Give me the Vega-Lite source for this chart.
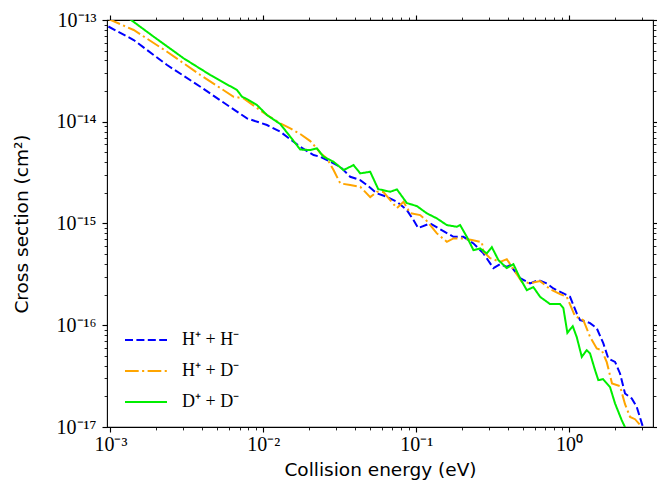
{
  "$schema": "https://vega.github.io/schema/vega-lite/v6.json",
  "width": 546,
  "height": 407,
  "autosize": {"type": "none"},
  "padding": {"left": 107, "top": 20, "right": 4, "bottom": 58},
  "background": "white",
  "config": {
    "view": {"stroke": "#000000", "strokeWidth": 1.1},
    "axis": {
      "domain": false,
      "grid": false,
      "tickColor": "#000000",
      "labelColor": "#000000",
      "titleColor": "#000000",
      "labelFont": "Liberation Serif",
      "labelFontSize": 20,
      "titleFont": "DejaVu Sans",
      "titleFontSize": 18.5,
      "titleFontWeight": "normal",
      "labelOverlap": false,
      "labelFlush": false
    }
  },
  "data": {
    "values": [
      {"E": 0.000970, "s": 8.633e-14, "c": "H⁺ + H⁻"},
      {"E": 0.001420, "s": 6.358e-14, "c": "H⁺ + H⁻"},
      {"E": 0.002348, "s": 3.610e-14, "c": "H⁺ + H⁻"},
      {"E": 0.003875, "s": 2.208e-14, "c": "H⁺ + H⁻"},
      {"E": 0.006396, "s": 1.324e-14, "c": "H⁺ + H⁻"},
      {"E": 0.007825, "s": 1.080e-14, "c": "H⁺ + H⁻"},
      {"E": 0.01057, "s": 9.283e-15, "c": "H⁺ + H⁻"},
      {"E": 0.01292, "s": 7.975e-15, "c": "H⁺ + H⁻"},
      {"E": 0.01578, "s": 6.358e-15, "c": "H⁺ + H⁻"},
      {"E": 0.01745, "s": 5.677e-15, "c": "H⁺ + H⁻"},
      {"E": 0.02133, "s": 4.706e-15, "c": "H⁺ + H⁻"},
      {"E": 0.02358, "s": 4.529e-15, "c": "H⁺ + H⁻"},
      {"E": 0.02881, "s": 3.899e-15, "c": "H⁺ + H⁻"},
      {"E": 0.03187, "s": 3.610e-15, "c": "H⁺ + H⁻"},
      {"E": 0.03704, "s": 2.879e-15, "c": "H⁺ + H⁻"},
      {"E": 0.04305, "s": 2.671e-15, "c": "H⁺ + H⁻"},
      {"E": 0.04763, "s": 2.386e-15, "c": "H⁺ + H⁻"},
      {"E": 0.05535, "s": 1.977e-15, "c": "H⁺ + H⁻"},
      {"E": 0.06435, "s": 1.830e-15, "c": "H⁺ + H⁻"},
      {"E": 0.07480, "s": 1.634e-15, "c": "H⁺ + H⁻"},
      {"E": 0.08693, "s": 1.355e-15, "c": "H⁺ + H⁻"},
      {"E": 0.09603, "s": 1.080e-15, "c": "H⁺ + H⁻"},
      {"E": 0.1031, "s": 9.011e-16, "c": "H⁺ + H⁻"},
      {"E": 0.1234, "s": 1.002e-15, "c": "H⁺ + H⁻"},
      {"E": 0.1508, "s": 8.421e-16, "c": "H⁺ + H⁻"},
      {"E": 0.1753, "s": 7.399e-16, "c": "H⁺ + H⁻"},
      {"E": 0.2038, "s": 7.399e-16, "c": "H⁺ + H⁻"},
      {"E": 0.2369, "s": 6.373e-16, "c": "H⁺ + H⁻"},
      {"E": 0.2754, "s": 5.082e-16, "c": "H⁺ + H⁻"},
      {"E": 0.3200, "s": 3.643e-16, "c": "H⁺ + H⁻"},
      {"E": 0.3540, "s": 3.990e-16, "c": "H⁺ + H⁻"},
      {"E": 0.3915, "s": 3.752e-16, "c": "H⁺ + H⁻"},
      {"E": 0.4115, "s": 3.899e-16, "c": "H⁺ + H⁻"},
      {"E": 0.4783, "s": 2.905e-16, "c": "H⁺ + H⁻"},
      {"E": 0.5560, "s": 2.576e-16, "c": "H⁺ + H⁻"},
      {"E": 0.6300, "s": 2.777e-16, "c": "H⁺ + H⁻"},
      {"E": 0.7150, "s": 2.576e-16, "c": "H⁺ + H⁻"},
      {"E": 0.7897, "s": 2.300e-16, "c": "H⁺ + H⁻"},
      {"E": 0.9179, "s": 2.055e-16, "c": "H⁺ + H⁻"},
      {"E": 1.015, "s": 1.902e-16, "c": "H⁺ + H⁻"},
      {"E": 1.123, "s": 1.306e-16, "c": "H⁺ + H⁻"},
      {"E": 1.180, "s": 1.122e-16, "c": "H⁺ + H⁻"},
      {"E": 1.305, "s": 1.080e-16, "c": "H⁺ + H⁻"},
      {"E": 1.372, "s": 1.049e-16, "c": "H⁺ + H⁻"},
      {"E": 1.517, "s": 9.365e-17, "c": "H⁺ + H⁻"},
      {"E": 1.676, "s": 6.622e-17, "c": "H⁺ + H⁻"},
      {"E": 1.807, "s": 4.716e-17, "c": "H⁺ + H⁻"},
      {"E": 1.999, "s": 4.366e-17, "c": "H⁺ + H⁻"},
      {"E": 2.154, "s": 3.358e-17, "c": "H⁺ + H⁻"},
      {"E": 2.323, "s": 2.135e-17, "c": "H⁺ + H⁻"},
      {"E": 2.570, "s": 1.906e-17, "c": "H⁺ + H⁻"},
      {"E": 2.770, "s": 1.576e-17, "c": "H⁺ + H⁻"},
      {"E": 3.046, "s": 9.95e-18, "c": "H⁺ + H⁻"},

      {"E": 0.000956, "s": 1.034e-13, "c": "H⁺ + D⁻"},
      {"E": 0.001420, "s": 7.975e-14, "c": "H⁺ + D⁻"},
      {"E": 0.002348, "s": 4.879e-14, "c": "H⁺ + D⁻"},
      {"E": 0.003875, "s": 2.879e-14, "c": "H⁺ + D⁻"},
      {"E": 0.006396, "s": 1.761e-14, "c": "H⁺ + D⁻"},
      {"E": 0.007434, "s": 1.699e-14, "c": "H⁺ + D⁻"},
      {"E": 0.009095, "s": 1.364e-14, "c": "H⁺ + D⁻"},
      {"E": 0.01057, "s": 1.164e-14, "c": "H⁺ + D⁻"},
      {"E": 0.01292, "s": 9.645e-15, "c": "H⁺ + D⁻"},
      {"E": 0.01502, "s": 8.612e-15, "c": "H⁺ + D⁻"},
      {"E": 0.01745, "s": 7.571e-15, "c": "H⁺ + D⁻"},
      {"E": 0.02029, "s": 6.459e-15, "c": "H⁺ + D⁻"},
      {"E": 0.02188, "s": 5.678e-15, "c": "H⁺ + D⁻"},
      {"E": 0.02358, "s": 4.923e-15, "c": "H⁺ + D⁻"},
      {"E": 0.02608, "s": 4.366e-15, "c": "H⁺ + D⁻"},
      {"E": 0.02881, "s": 3.350e-15, "c": "H⁺ + D⁻"},
      {"E": 0.03187, "s": 2.479e-15, "c": "H⁺ + D⁻"},
      {"E": 0.03704, "s": 2.386e-15, "c": "H⁺ + D⁻"},
      {"E": 0.04305, "s": 2.296e-15, "c": "H⁺ + D⁻"},
      {"E": 0.05004, "s": 1.818e-15, "c": "H⁺ + D⁻"},
      {"E": 0.05535, "s": 2.049e-15, "c": "H⁺ + D⁻"},
      {"E": 0.06114, "s": 2.036e-15, "c": "H⁺ + D⁻"},
      {"E": 0.06763, "s": 1.699e-15, "c": "H⁺ + D⁻"},
      {"E": 0.07480, "s": 1.417e-15, "c": "H⁺ + D⁻"},
      {"E": 0.08260, "s": 1.634e-15, "c": "H⁺ + D⁻"},
      {"E": 0.09138, "s": 1.266e-15, "c": "H⁺ + D⁻"},
      {"E": 0.1062, "s": 1.209e-15, "c": "H⁺ + D⁻"},
      {"E": 0.1175, "s": 1.056e-15, "c": "H⁺ + D⁻"},
      {"E": 0.1366, "s": 7.992e-16, "c": "H⁺ + D⁻"},
      {"E": 0.1587, "s": 6.608e-16, "c": "H⁺ + D⁻"},
      {"E": 0.1753, "s": 7.137e-16, "c": "H⁺ + D⁻"},
      {"E": 0.2038, "s": 7.137e-16, "c": "H⁺ + D⁻"},
      {"E": 0.2313, "s": 6.868e-16, "c": "H⁺ + D⁻"},
      {"E": 0.2688, "s": 6.563e-16, "c": "H⁺ + D⁻"},
      {"E": 0.2754, "s": 5.269e-16, "c": "H⁺ + D⁻"},
      {"E": 0.3045, "s": 4.569e-16, "c": "H⁺ + D⁻"},
      {"E": 0.3540, "s": 4.202e-16, "c": "H⁺ + D⁻"},
      {"E": 0.3915, "s": 4.467e-16, "c": "H⁺ + D⁻"},
      {"E": 0.4437, "s": 3.350e-16, "c": "H⁺ + D⁻"},
      {"E": 0.4907, "s": 2.671e-16, "c": "H⁺ + D⁻"},
      {"E": 0.5560, "s": 2.594e-16, "c": "H⁺ + D⁻"},
      {"E": 0.6465, "s": 2.714e-16, "c": "H⁺ + D⁻"},
      {"E": 0.7513, "s": 2.265e-16, "c": "H⁺ + D⁻"},
      {"E": 0.8732, "s": 2.022e-16, "c": "H⁺ + D⁻"},
      {"E": 0.9660, "s": 1.902e-16, "c": "H⁺ + D⁻"},
      {"E": 1.094, "s": 1.229e-16, "c": "H⁺ + D⁻"},
      {"E": 1.240, "s": 1.122e-16, "c": "H⁺ + D⁻"},
      {"E": 1.372, "s": 7.690e-17, "c": "H⁺ + D⁻"},
      {"E": 1.517, "s": 5.913e-17, "c": "H⁺ + D⁻"},
      {"E": 1.636, "s": 5.690e-17, "c": "H⁺ + D⁻"},
      {"E": 1.764, "s": 4.337e-17, "c": "H⁺ + D⁻"},
      {"E": 1.910, "s": 2.677e-17, "c": "H⁺ + D⁻"},
      {"E": 2.154, "s": 2.519e-17, "c": "H⁺ + D⁻"},
      {"E": 2.323, "s": 1.675e-17, "c": "H⁺ + D⁻"},
      {"E": 2.505, "s": 1.257e-17, "c": "H⁺ + D⁻"},
      {"E": 2.700, "s": 1.193e-17, "c": "H⁺ + D⁻"},
      {"E": 3.000, "s": 9.95e-18, "c": "H⁺ + D⁻"},

      {"E": 0.000956, "s": 1.437e-13, "c": "D⁺ + D⁻"},
      {"E": 0.001366, "s": 1.000e-13, "c": "D⁺ + D⁻"},
      {"E": 0.001919, "s": 6.853e-14, "c": "D⁺ + D⁻"},
      {"E": 0.003013, "s": 4.202e-14, "c": "D⁺ + D⁻"},
      {"E": 0.004504, "s": 2.879e-14, "c": "D⁺ + D⁻"},
      {"E": 0.006731, "s": 2.050e-14, "c": "D⁺ + D⁻"},
      {"E": 0.007258, "s": 1.761e-14, "c": "D⁺ + D⁻"},
      {"E": 0.007825, "s": 1.672e-14, "c": "D⁺ + D⁻"},
      {"E": 0.009095, "s": 1.459e-14, "c": "D⁺ + D⁻"},
      {"E": 0.01057, "s": 1.164e-14, "c": "D⁺ + D⁻"},
      {"E": 0.01292, "s": 9.493e-15, "c": "D⁺ + D⁻"},
      {"E": 0.01502, "s": 7.120e-15, "c": "D⁺ + D⁻"},
      {"E": 0.01745, "s": 5.330e-15, "c": "D⁺ + D⁻"},
      {"E": 0.02029, "s": 5.269e-15, "c": "D⁺ + D⁻"},
      {"E": 0.02244, "s": 5.475e-15, "c": "D⁺ + D⁻"},
      {"E": 0.02478, "s": 4.528e-15, "c": "D⁺ + D⁻"},
      {"E": 0.02881, "s": 4.043e-15, "c": "D⁺ + D⁻"},
      {"E": 0.03349, "s": 3.350e-15, "c": "D⁺ + D⁻"},
      {"E": 0.03893, "s": 3.751e-15, "c": "D⁺ + D⁻"},
      {"E": 0.04305, "s": 3.109e-15, "c": "D⁺ + D⁻"},
      {"E": 0.05004, "s": 3.224e-15, "c": "D⁺ + D⁻"},
      {"E": 0.05644, "s": 2.179e-15, "c": "D⁺ + D⁻"},
      {"E": 0.06763, "s": 2.050e-15, "c": "D⁺ + D⁻"},
      {"E": 0.07480, "s": 2.164e-15, "c": "D⁺ + D⁻"},
      {"E": 0.08693, "s": 1.587e-15, "c": "D⁺ + D⁻"},
      {"E": 0.1011, "s": 1.483e-15, "c": "D⁺ + D⁻"},
      {"E": 0.1175, "s": 1.257e-15, "c": "D⁺ + D⁻"},
      {"E": 0.1366, "s": 1.122e-15, "c": "D⁺ + D⁻"},
      {"E": 0.1587, "s": 9.645e-16, "c": "D⁺ + D⁻"},
      {"E": 0.1845, "s": 9.282e-16, "c": "D⁺ + D⁻"},
      {"E": 0.1939, "s": 9.645e-16, "c": "D⁺ + D⁻"},
      {"E": 0.2145, "s": 7.399e-16, "c": "D⁺ + D⁻"},
      {"E": 0.2369, "s": 5.474e-16, "c": "D⁺ + D⁻"},
      {"E": 0.2620, "s": 5.691e-16, "c": "D⁺ + D⁻"},
      {"E": 0.2898, "s": 5.082e-16, "c": "D⁺ + D⁻"},
      {"E": 0.3124, "s": 5.860e-16, "c": "D⁺ + D⁻"},
      {"E": 0.3451, "s": 4.366e-16, "c": "D⁺ + D⁻"},
      {"E": 0.3915, "s": 3.643e-16, "c": "D⁺ + D⁻"},
      {"E": 0.4324, "s": 3.988e-16, "c": "D⁺ + D⁻"},
      {"E": 0.4783, "s": 2.886e-16, "c": "D⁺ + D⁻"},
      {"E": 0.5291, "s": 2.214e-16, "c": "D⁺ + D⁻"},
      {"E": 0.5844, "s": 2.369e-16, "c": "D⁺ + D⁻"},
      {"E": 0.6465, "s": 1.902e-16, "c": "D⁺ + D⁻"},
      {"E": 0.7513, "s": 1.613e-16, "c": "D⁺ + D⁻"},
      {"E": 0.8732, "s": 1.613e-16, "c": "D⁺ + D⁻"},
      {"E": 0.9179, "s": 1.473e-16, "c": "D⁺ + D⁻"},
      {"E": 0.9748, "s": 8.420e-17, "c": "D⁺ + D⁻"},
      {"E": 1.057, "s": 9.797e-17, "c": "D⁺ + D⁻"},
      {"E": 1.123, "s": 7.638e-17, "c": "D⁺ + D⁻"},
      {"E": 1.211, "s": 4.891e-17, "c": "D⁺ + D⁻"},
      {"E": 1.305, "s": 5.691e-17, "c": "D⁺ + D⁻"},
      {"E": 1.372, "s": 5.281e-17, "c": "D⁺ + D⁻"},
      {"E": 1.479, "s": 3.618e-17, "c": "D⁺ + D⁻"},
      {"E": 1.554, "s": 2.886e-17, "c": "D⁺ + D⁻"},
      {"E": 1.668, "s": 2.951e-17, "c": "D⁺ + D⁻"},
      {"E": 1.854, "s": 2.462e-17, "c": "D⁺ + D⁻"},
      {"E": 1.999, "s": 1.702e-17, "c": "D⁺ + D⁻"},
      {"E": 2.210, "s": 1.166e-17, "c": "D⁺ + D⁻"},
      {"E": 2.323, "s": 9.95e-18, "c": "D⁺ + D⁻"}
    ]
  },
  "layer": [
    {
      "mark": {"type": "line", "strokeWidth": 2, "clip": true, "strokeCap": "butt"},
      "encoding": {
        "x": {
          "field": "E", "type": "quantitative",
          "scale": {"type": "log", "domain": [0.00095, 3.54], "nice": false},
          "axis": {
            "orient": "bottom",
            "values": [0.001, 0.01, 0.1, 1],
            "labelExpr": "datum.value < 0.005 ? '10⁻³' : datum.value < 0.05 ? '10⁻²' : datum.value < 0.5 ? '10⁻¹' : '10⁰'",
            "tickSize": 5, "tickWidth": 1.14, "labelPadding": 2,
            "title": "Collision energy (eV)", "titlePadding": 6
          }
        },
        "y": {
          "field": "s", "type": "quantitative",
          "scale": {"type": "log", "domain": [1e-17, 1e-13], "nice": false},
          "axis": {
            "orient": "left",
            "values": [1e-17, 1e-16, 1e-15, 1e-14, 1e-13],
            "labelExpr": "datum.value < 5e-17 ? '10⁻¹⁷' : datum.value < 5e-16 ? '10⁻¹⁶' : datum.value < 5e-15 ? '10⁻¹⁵' : datum.value < 5e-14 ? '10⁻¹⁴' : '10⁻¹³'",
            "tickSize": 5, "tickWidth": 1.14, "labelPadding": 6,
            "title": "Cross section (cm²)", "titlePadding": 25
          }
        },
        "color": {
          "field": "c", "type": "nominal",
          "scale": {"domain": ["H⁺ + H⁻", "H⁺ + D⁻", "D⁺ + D⁻"], "range": ["#0000ff", "#ffa500", "#00ee00"]},
          "legend": {
            "title": null, "orient": "none", "legendX": 17, "legendY": 298,
            "symbolType": "stroke", "symbolSize": 1764, "symbolStrokeWidth": 2,
            "labelFont": "Liberation Serif", "labelFontSize": 18, "labelColor": "#000000",
            "labelOffset": 14, "rowPadding": -1.5, "padding": 0
          }
        },
        "strokeDash": {
          "field": "c", "type": "nominal",
          "scale": {"domain": ["H⁺ + H⁻", "H⁺ + D⁻", "D⁺ + D⁻"], "range": [[8, 3.4], [13.7, 3.4, 2.1, 3.4], [1, 0]]},
          "legend": {
            "title": null, "orient": "none", "legendX": 17, "legendY": 298,
            "symbolType": "stroke", "symbolSize": 1764, "symbolStrokeWidth": 2,
            "labelFont": "Liberation Serif", "labelFontSize": 18, "labelColor": "#000000",
            "labelOffset": 14, "rowPadding": -1.5, "padding": 0
          }
        }
      }
    },
    {
      "mark": {"type": "point", "opacity": 0},
      "encoding": {
        "x": {
          "field": "E", "type": "quantitative",
          "scale": {"type": "log", "domain": [0.00095, 3.54], "nice": false},
          "axis": {
            "orient": "bottom", "labels": false, "title": null,
            "values": [0.002, 0.003, 0.004, 0.005, 0.006, 0.007, 0.008, 0.009, 0.02, 0.03, 0.04, 0.05, 0.06, 0.07, 0.08, 0.09, 0.2, 0.3, 0.4, 0.5, 0.6, 0.7, 0.8, 0.9, 2, 3],
            "tickSize": 2.9, "tickWidth": 0.86
          }
        },
        "y": {
          "field": "s", "type": "quantitative",
          "scale": {"type": "log", "domain": [1e-17, 1e-13], "nice": false},
          "axis": {
            "orient": "left", "labels": false, "title": null,
            "values": [2e-17, 3e-17, 4e-17, 5e-17, 6e-17, 7e-17, 8e-17, 9e-17, 2e-16, 3e-16, 4e-16, 5e-16, 6e-16, 7e-16, 8e-16, 9e-16, 2e-15, 3e-15, 4e-15, 5e-15, 6e-15, 7e-15, 8e-15, 9e-15, 2e-14, 3e-14, 4e-14, 5e-14, 6e-14, 7e-14, 8e-14, 9e-14],
            "tickSize": 2.9, "tickWidth": 0.86
          }
        }
      }
    },
    {
      "mark": {"type": "point", "opacity": 0},
      "encoding": {
        "x": {
          "field": "E", "type": "quantitative",
          "scale": {"type": "log", "domain": [0.00095, 3.54], "nice": false},
          "axis": {"orient": "top", "labels": false, "title": null, "values": [0.001, 0.01, 0.1, 1], "tickSize": 5, "tickWidth": 1.14}
        },
        "y": {
          "field": "s", "type": "quantitative",
          "scale": {"type": "log", "domain": [1e-17, 1e-13], "nice": false},
          "axis": {"orient": "right", "labels": false, "title": null, "values": [1e-17, 1e-16, 1e-15, 1e-14, 1e-13], "tickSize": 5, "tickWidth": 1.14}
        }
      }
    },
    {
      "mark": {"type": "point", "opacity": 0},
      "encoding": {
        "x": {
          "field": "E", "type": "quantitative",
          "scale": {"type": "log", "domain": [0.00095, 3.54], "nice": false},
          "axis": {
            "orient": "top", "labels": false, "title": null,
            "values": [0.002, 0.003, 0.004, 0.005, 0.006, 0.007, 0.008, 0.009, 0.02, 0.03, 0.04, 0.05, 0.06, 0.07, 0.08, 0.09, 0.2, 0.3, 0.4, 0.5, 0.6, 0.7, 0.8, 0.9, 2, 3],
            "tickSize": 2.9, "tickWidth": 0.86
          }
        },
        "y": {
          "field": "s", "type": "quantitative",
          "scale": {"type": "log", "domain": [1e-17, 1e-13], "nice": false},
          "axis": {
            "orient": "right", "labels": false, "title": null,
            "values": [2e-17, 3e-17, 4e-17, 5e-17, 6e-17, 7e-17, 8e-17, 9e-17, 2e-16, 3e-16, 4e-16, 5e-16, 6e-16, 7e-16, 8e-16, 9e-16, 2e-15, 3e-15, 4e-15, 5e-15, 6e-15, 7e-15, 8e-15, 9e-15, 2e-14, 3e-14, 4e-14, 5e-14, 6e-14, 7e-14, 8e-14, 9e-14],
            "tickSize": 2.9, "tickWidth": 0.86
          }
        }
      }
    }
  ],
  "resolve": {"axis": {"x": "independent", "y": "independent"}}
}
